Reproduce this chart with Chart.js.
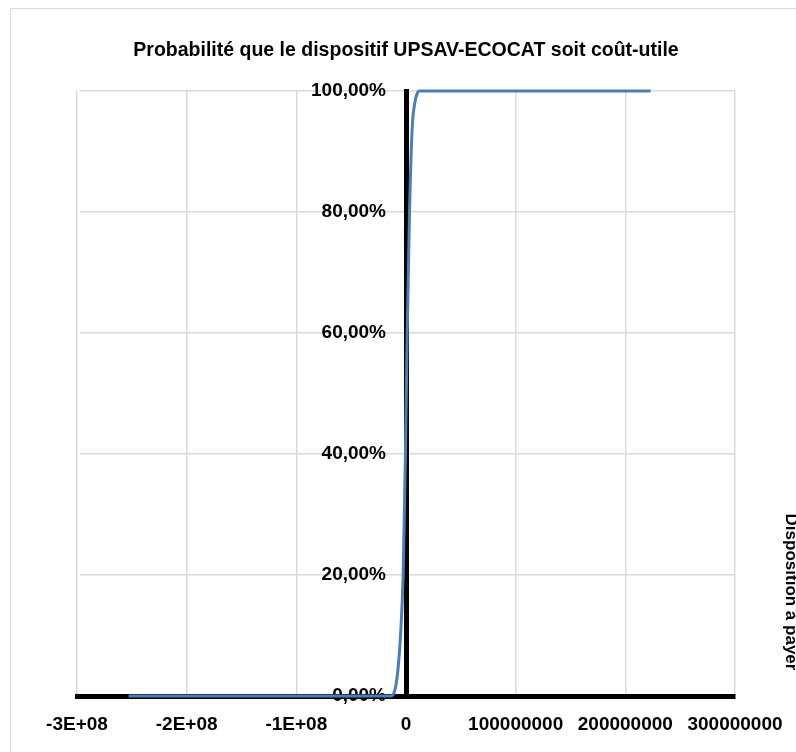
<!DOCTYPE html>
<html><head><meta charset="utf-8">
<script src="https://cdn.jsdelivr.net/npm/chart.js@4"></script>
<style>html,body{margin:0;padding:0;background:#fff;}#wrap{width:796px;height:752px;position:relative;overflow:hidden;}</style>
</head><body><div id="wrap"><canvas id="c" width="796" height="752"></canvas></div>
<script>
// Net benefit (x) and cumulative probability of being cost-useful (y)
const netBenefit = [-2.53e8, -1.4e7, -1.1e7, -9e6, -7e6, -5e6, -2.6e6, -0.5e6, 1.1e6, 3.2e6, 5.7e6, 8e6, 1.0e7, 1.2e7, 2.23e8];
const probability = [0, 0, 0.005, 0.02, 0.05, 0.10, 0.20, 0.40, 0.60, 0.80, 0.94, 0.98, 0.995, 1.0, 1.0];
const xTickLabels = ['-3E+08', '-2E+08', '-1E+08', '0', '100000000', '200000000', '300000000'];
const yTickLabels = ['0,00%', '20,00%', '40,00%', '60,00%', '80,00%', '100,00%'];
const chartTitle = 'Probabilité que le dispositif UPSAV-ECOCAT soit coût-utile';
const sideLabel = 'Disposition à payer';

const family = '"Liberation Sans", Arial, sans-serif';

const framePlugin = {
  id: 'frame',
  beforeDraw(chart) {
    const ctx = chart.ctx;
    ctx.save();
    ctx.fillStyle = '#fff';
    ctx.fillRect(0, 0, chart.width, chart.height);
    ctx.strokeStyle = '#d9d9d9';
    ctx.lineWidth = 1;
    ctx.strokeRect(10.5, 8.5, 900, 900);
    ctx.restore();
  }
};
// Move the value axis so it crosses the category axis at 0 (as in the spreadsheet chart)
const crossAtZeroPlugin = {
  id: 'crossAtZero',
  afterLayout(chart) {
    const y = chart.scales.y;
    const px = chart.scales.x.getPixelForValue(0);
    y.left = px - 100;
    y.right = px;
  }
};
const sideLabelPlugin = {
  id: 'sideLabel',
  afterDraw(chart) {
    const ctx = chart.ctx;
    ctx.save();
    ctx.translate(786, 592);
    ctx.rotate(Math.PI / 2);
    ctx.font = 'bold 17px ' + family;
    ctx.fillStyle = '#000';
    ctx.textAlign = 'center';
    ctx.textBaseline = 'alphabetic';
    ctx.fillText(sideLabel, 0, 0);
    ctx.restore();
  }
};

new Chart(document.getElementById('c'), {
  type: 'line',
  data: {
    datasets: [{
      data: netBenefit.map((x, i) => ({x: x, y: probability[i]})),
      borderColor: '#4a7ebb',
      borderWidth: 3,
      pointRadius: 0,
      cubicInterpolationMode: 'monotone',
      fill: false,
      clip: false
    }]
  },
  options: {
    responsive: false,
    animation: false,
    devicePixelRatio: 1,
    layout: {padding: {left: 77, right: 61, top: 0, bottom: 56}},
    plugins: {
      legend: {display: false},
      tooltip: {enabled: false},
      title: {
        display: true, text: chartTitle, color: '#000',
        font: {family: family, weight: 'bold', size: 19.5},
        padding: {top: 39, bottom: 28.6}
      }
    },
    scales: {
      x: {
        type: 'linear', min: -3e8, max: 3e8, position: {y: 0},
        ticks: {stepSize: 1e8, autoSkip: false, maxRotation: 0, padding: 12, color: '#000',
          font: {family: family, weight: 'bold', size: 19, lineHeight: 1.8},
          callback: (v, i) => xTickLabels[i]},
        grid: {color: '#d9d9d9', lineWidth: 1.5, drawTicks: false},
        border: {color: '#000', width: 5}
      },
      y: {
        type: 'linear', min: 0, max: 1, position: 'left',
        afterFit: (s) => { s.width = 0; },
        ticks: {stepSize: 0.2, padding: 20, color: '#000',
          font: {family: family, weight: 'bold', size: 19},
          callback: (v, i) => yTickLabels[i]},
        grid: {color: '#d9d9d9', lineWidth: 1.5, drawTicks: false},
        border: {color: '#000', width: 5}
      }
    }
  },
  plugins: [framePlugin, crossAtZeroPlugin, sideLabelPlugin]
});
</script>
</body></html>
